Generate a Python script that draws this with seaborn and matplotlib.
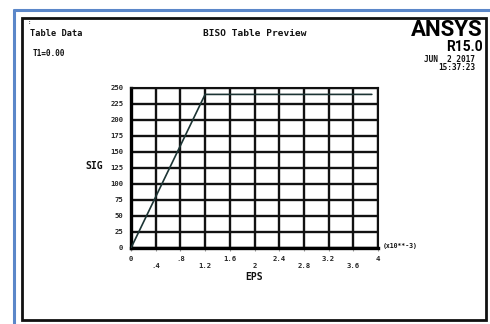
import matplotlib
matplotlib.use("Agg")
import matplotlib.pyplot as plt
from matplotlib.patches import Rectangle
from matplotlib.lines import Line2D
import seaborn as sns
import pandas as pd

# Bilinear isotropic hardening curve (strain in units of 1e-3)
eps = [0.0, 1.2, 3.9]
sig = [0.0, 240.0, 240.0]

x_ticks = [0.0, 0.4, 0.8, 1.2, 1.6, 2.0, 2.4, 2.8, 3.2, 3.6, 4.0]
x_tick_labels = ["0", ".4", ".8", "1.2", "1.6", "2", "2.4", "2.8", "3.2", "3.6", "4"]
y_ticks = [0, 25, 50, 75, 100, 125, 150, 175, 200, 225, 250]
y_tick_labels = [str(v) for v in y_ticks]

sns.set_style("white")
plt.rcParams["font.family"] = ["DejaVu Sans Mono", "Liberation Mono"]

W, H = 490, 324
fig = plt.figure(figsize=(W / 100, H / 100), dpi=100)
fig.patch.set_facecolor("white")


def fx(px):
    return px / W


def fy(py):
    return 1 - py / H


# Outer blue border (left and top)
fig.add_artist(Line2D([fx(13.5), fx(13.5)], [fy(10), fy(324)], color="#5b87c9", lw=2.2))
fig.add_artist(Line2D([fx(13.5), fx(490)], [fy(10), fy(10)], color="#5b87c9", lw=2.2))
# Black window frame
fig.add_artist(Rectangle((fx(22), fy(320)), fx(486) - fx(22), fy(18) - fy(320),
                         fill=False, ec="#111111", lw=2.0))

# Plot area
ax = fig.add_axes([fx(131), fy(248), fx(378) - fx(131), fy(88) - fy(248)])
df = pd.DataFrame({"EPS": eps, "SIG": sig})
sns.lineplot(data=df, x="EPS", y="SIG", ax=ax, color="#1c3434", lw=1.2, zorder=5)

ax.set_xlim(0, 4)
ax.set_ylim(0, 250)
ax.set_xticks(x_ticks)
ax.set_xticklabels([lab if i % 2 == 0 else "\n" + lab for i, lab in enumerate(x_tick_labels)])
ax.set_yticks(y_ticks)
ax.set_yticklabels(y_tick_labels)
ax.grid(True, color="#111111", lw=1.7)
ax.set_axisbelow(True)
for side in ["top", "right"]:
    ax.spines[side].set_linewidth(1.5)
    ax.spines[side].set_color("#111111")
for side in ["left", "bottom"]:
    ax.spines[side].set_linewidth(2.4)
    ax.spines[side].set_color("#000000")
ax.tick_params(axis="x", bottom=True, length=2, width=0.8, color="#999999",
               pad=4, labelsize=5.2)
ax.tick_params(axis="y", left=False, pad=2, labelsize=5.2)
for lab in ax.get_xticklabels() + ax.get_yticklabels():
    lab.set_fontweight("bold")
    lab.set_linespacing(1.1)
ax.set_xlabel("")
ax.set_ylabel("")

bold = dict(fontweight="bold", color="#111111")
fig.text(fx(94), fy(166), "SIG", ha="center", va="center", fontsize=7, **bold)
fig.text(fx(254), fy(277), "EPS", ha="center", va="center", fontsize=7, **bold)
fig.text(fx(383), fy(246), "(x10**-3)", ha="left", va="center", fontsize=4.7, **bold)

# Header texts
fig.text(fx(28), fy(22), ":", ha="left", va="center", fontsize=4, **bold)
fig.text(fx(30), fy(33), "Table Data", ha="left", va="center", fontsize=6.2, **bold)
fig.text(fx(33), fy(53), "T1=0.00", ha="left", va="center", fontsize=5.6, **bold)
fig.text(fx(255), fy(34), "BISO Table Preview", ha="center", va="center", fontsize=6.8, **bold)
fig.text(fx(483), fy(30), "ANSYS", ha="right", va="center", fontsize=16,
         family="Roboto", fontweight="bold", color="#000000")
fig.text(fx(483), fy(47), "R15.0", ha="right", va="center", fontsize=10,
         family="Roboto", fontweight="bold", color="#000000")
fig.text(fx(475), fy(59), "JUN  2 2017", ha="right", va="center", fontsize=5.6, **bold)
fig.text(fx(475), fy(68), "15:37:23", ha="right", va="center", fontsize=5.6, **bold)

fig.savefig("out.png", dpi=100, facecolor="white")
